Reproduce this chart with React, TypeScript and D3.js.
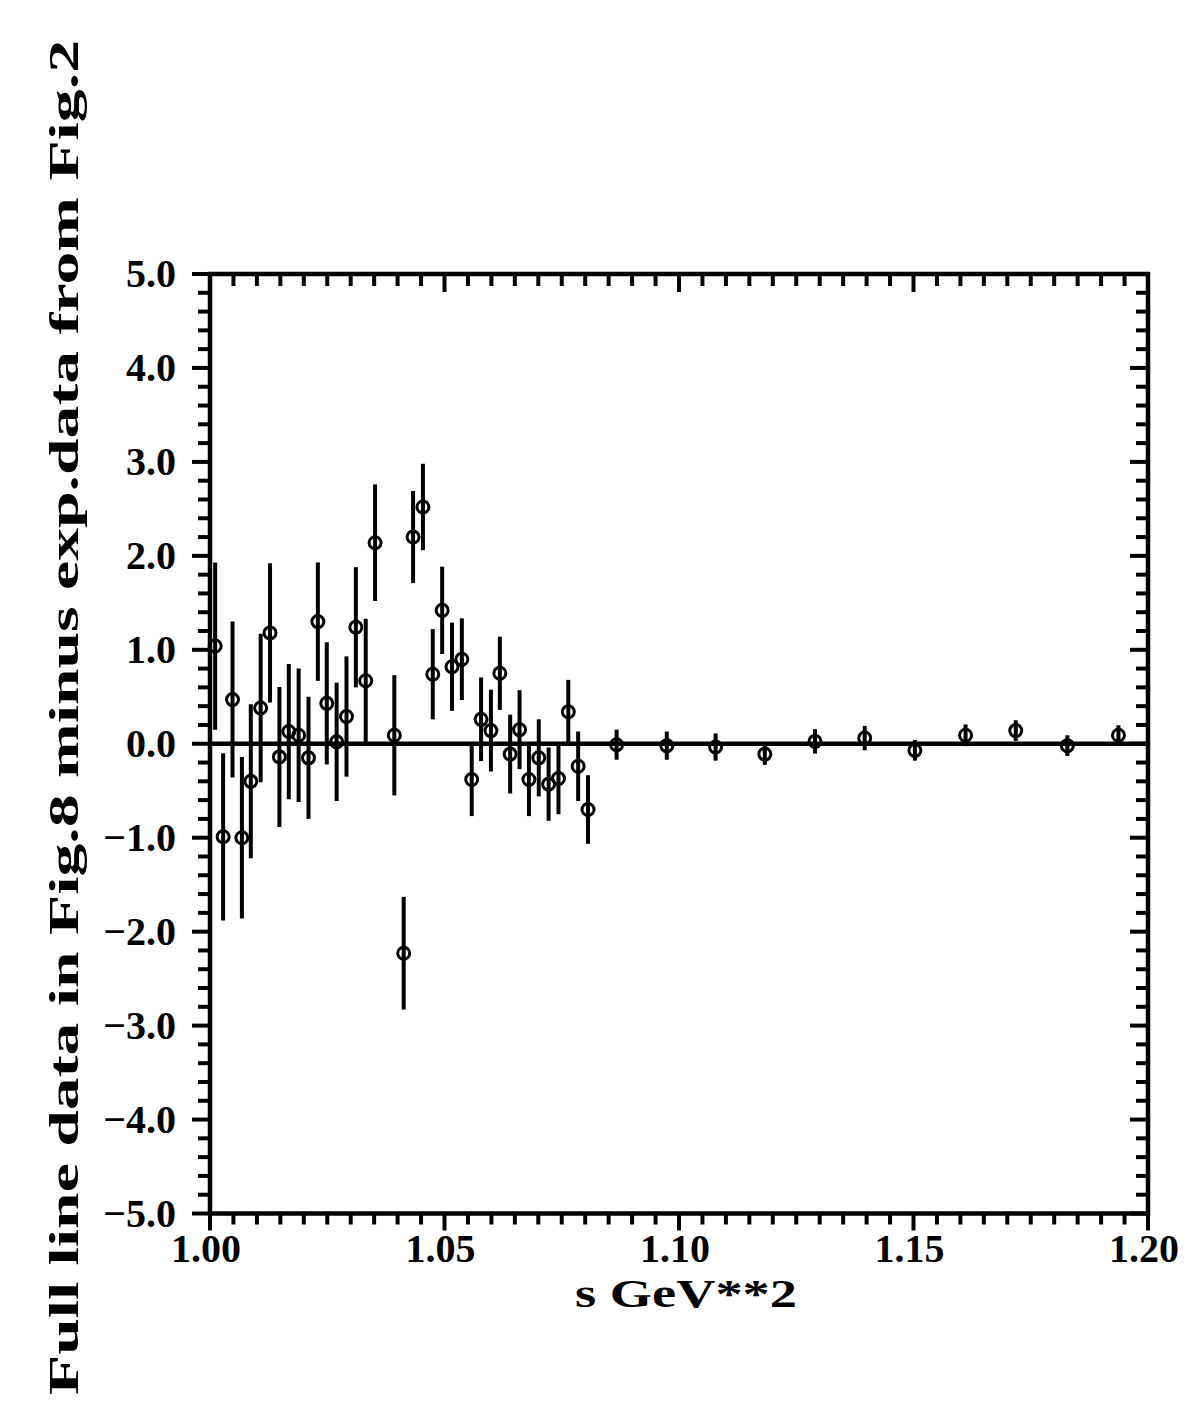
import React, { useRef, useEffect } from "react";
import * as d3 from "d3";

// s values (GeV**2), residuals and their errors
const sVals = [
  1.0011, 1.0028, 1.0048, 1.0068, 1.0087, 1.0108, 1.0128, 1.0148, 1.0168, 1.0189,
  1.021, 1.023, 1.0249, 1.027, 1.0291, 1.0311, 1.0332, 1.0352, 1.0393, 1.0413,
  1.0433, 1.0454, 1.0475, 1.0495, 1.0516, 1.0537, 1.0558, 1.0578, 1.0599, 1.0618,
  1.064, 1.066, 1.068, 1.0701, 1.0722, 1.0743, 1.0764, 1.0785, 1.0806, 1.0867,
  1.0974, 1.1078, 1.1183, 1.129, 1.1396, 1.1503, 1.1611, 1.1718, 1.1828, 1.1937,
];
const diffs = [
  1.04, -0.99, 0.47, -1.0, -0.4, 0.38, 1.18, -0.14, 0.13, 0.09,
  -0.15, 1.3, 0.43, 0.02, 0.29, 1.24, 0.67, 2.14, 0.09, -2.23,
  2.2, 2.52, 0.74, 1.42, 0.82, 0.9, -0.38, 0.26, 0.14, 0.75,
  -0.11, 0.15, -0.38, -0.15, -0.43, -0.37, 0.34, -0.24, -0.7, -0.01,
  -0.02, -0.035, -0.11, 0.025, 0.06, -0.07, 0.09, 0.14, -0.02, 0.09,
];
const errs = [
  0.89, 0.89, 0.83, 0.86, 0.82, 0.79, 0.74, 0.745, 0.72, 0.71,
  0.65, 0.63, 0.65, 0.63, 0.64, 0.64, 0.66, 0.62, 0.64, 0.6,
  0.49, 0.46, 0.48, 0.465, 0.47, 0.435, 0.39, 0.445, 0.435, 0.39,
  0.42, 0.42, 0.39, 0.41, 0.39, 0.38, 0.34, 0.37, 0.365, 0.16,
  0.15, 0.145, 0.115, 0.13, 0.13, 0.11, 0.115, 0.11, 0.11, 0.107,
];

const xTickLabels = ["1.00", "1.05", "1.10", "1.15", "1.20"];
const yTickLabels = ["5.0", "4.0", "3.0", "2.0", "1.0", "0.0", "−1.0", "−2.0", "−3.0", "−4.0", "−5.0"];

const W = 1201;
const H = 1423;

const App = () => {
  const ref = useRef(null);

  useEffect(() => {
    const svg = d3.select(ref.current);
    svg.selectAll("*").remove();

    const x = d3.scaleLinear().domain([1.0, 1.2]).range([210, 1148]);
    const y = d3.scaleLinear().domain([-5, 5]).range([1213.5, 274]);
    const font = "'Liberation Serif', 'Times New Roman', serif";

    svg.append("rect").attr("width", W).attr("height", H).attr("fill", "white");

    // minor + major ticks
    const xMinor = d3.range(0, 41).map(i => 1.0 + i * 0.005);
    const yMinor = d3.range(0, 51).map(i => -5 + i * 0.2);

    xMinor.forEach((v, i) => {
      const major = i % 10 === 0;
      // bottom: outward
      svg.append("line")
        .attr("x1", x(v)).attr("x2", x(v))
        .attr("y1", y(-5)).attr("y2", y(-5) + (major ? 17 : 11))
        .attr("stroke", "black").attr("stroke-width", 4);
      // top: inward
      svg.append("line")
        .attr("x1", x(v)).attr("x2", x(v))
        .attr("y1", y(5)).attr("y2", y(5) + (major ? 18 : 12))
        .attr("stroke", "black").attr("stroke-width", 4);
    });

    yMinor.forEach((v, i) => {
      const major = i % 5 === 0;
      // left: outward
      svg.append("line")
        .attr("x1", x(1.0)).attr("x2", x(1.0) - (major ? 18 : 12))
        .attr("y1", y(v)).attr("y2", y(v))
        .attr("stroke", "black").attr("stroke-width", 4);
      // right: inward
      svg.append("line")
        .attr("x1", x(1.2)).attr("x2", x(1.2) - (major ? 18 : 12))
        .attr("y1", y(v)).attr("y2", y(v))
        .attr("stroke", "black").attr("stroke-width", 4);
    });

    // frame
    svg.append("rect")
      .attr("x", x(1.0)).attr("y", y(5))
      .attr("width", x(1.2) - x(1.0)).attr("height", y(-5) - y(5))
      .attr("fill", "none").attr("stroke", "black").attr("stroke-width", 4.5);

    // zero line
    svg.append("line")
      .attr("x1", x(1.0)).attr("x2", x(1.2))
      .attr("y1", y(0)).attr("y2", y(0))
      .attr("stroke", "black").attr("stroke-width", 4.5);

    // tick labels
    xTickLabels.forEach((t, i) => {
      svg.append("text")
        .attr("x", x(1.0 + i * 0.05) - 4).attr("y", 1262)
        .attr("text-anchor", "middle")
        .attr("font-family", font).attr("font-weight", "bold").attr("font-size", 40)
        .text(t);
    });
    yTickLabels.forEach((t, i) => {
      svg.append("text")
        .attr("x", 176).attr("y", y(5 - i) + 13)
        .attr("text-anchor", "end")
        .attr("font-family", font).attr("font-weight", "bold").attr("font-size", 40)
        .text(t);
    });

    // error bars + markers
    const pts = sVals.map((s, i) => ({ s, v: diffs[i], e: errs[i] }));
    svg.append("g").selectAll("line")
      .data(pts).join("line")
      .attr("x1", d => x(d.s)).attr("x2", d => x(d.s))
      .attr("y1", d => y(d.v + d.e)).attr("y2", d => y(d.v - d.e))
      .attr("stroke", "black").attr("stroke-width", 4);
    svg.append("g").selectAll("circle")
      .data(pts).join("circle")
      .attr("cx", d => x(d.s)).attr("cy", d => y(d.v))
      .attr("r", 6)
      .attr("fill", "none").attr("stroke", "black").attr("stroke-width", 3);

    // axis titles
    svg.append("text")
      .attr("x", 575).attr("y", 1307)
      .attr("font-family", font).attr("font-weight", "bold").attr("font-size", 40)
      .attr("textLength", 222).attr("lengthAdjust", "spacingAndGlyphs")
      .text("s GeV**2");

    svg.append("text")
      .attr("transform", "translate(78,1395) rotate(-90)")
      .attr("font-family", font).attr("font-weight", "bold").attr("font-size", 42)
      .attr("textLength", 1355).attr("lengthAdjust", "spacingAndGlyphs")
      .text("Full line data in Fig.8 minus exp.data from Fig.2");
  }, []);

  return (
    <svg
      ref={ref}
      width={W}
      height={H}
      style={{ position: "absolute", left: 0, top: 0 }}
    />
  );
};

export default App;
